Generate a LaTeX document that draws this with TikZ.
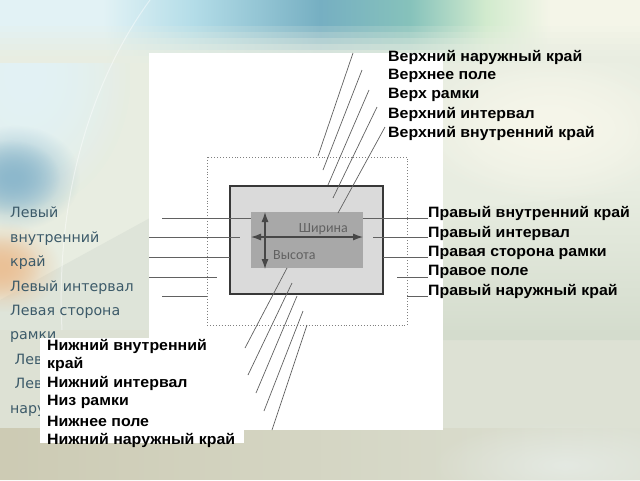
\documentclass[tikz,border=0pt]{standalone}
\usepackage{fontspec}
\setmainfont{Liberation Sans}
\newfontfamily\lblfont[FakeStretch=1.06]{Liberation Sans}
\newfontfamily\leftfont{DejaVu Sans}
\newfontfamily\smallfont{Carlito}
\usetikzlibrary{arrows.meta,fadings}
\definecolor{bgbase}{HTML}{E8EDE1}
\definecolor{cA}{HTML}{E2F2F5}
\definecolor{cB}{HTML}{B4DDE8}
\definecolor{cC}{HTML}{76AFC2}
\definecolor{cD}{HTML}{86C2BB}
\definecolor{cE}{HTML}{D2EBCE}
\definecolor{cF}{HTML}{F4F5E8}
\definecolor{bluepatch}{HTML}{8DB8CC}
\definecolor{leftlow}{HTML}{DEE4D9}
\definecolor{orangepatch}{HTML}{EBC197}
\definecolor{creampatch}{HTML}{F6F6EA}
\definecolor{rightlow}{HTML}{D4DCCD}
\definecolor{lowband}{HTML}{DDE1D4}
\definecolor{beige}{HTML}{CDCBB4}
\definecolor{lightcorner}{HTML}{E4E9E2}
\definecolor{lefttext}{HTML}{3C5A69}
\definecolor{framegray}{HTML}{DADADA}
\definecolor{innergray}{HTML}{A8A8A8}
\newcommand\mkband[2]{\pgfdeclarehorizontalshading{band#1}{100bp}{color(0bp)=(cA!#2!bgbase); color(25bp)=(cA!#2!bgbase); color(33bp)=(cA!#2!bgbase); color(40bp)=(cB!#2!bgbase); color(50bp)=(cC!#2!bgbase); color(57bp)=(cD!#2!bgbase); color(63bp)=(cE!#2!bgbase); color(68bp)=(cF!#2!bgbase); color(75bp)=(cF!#2!bgbase); color(100bp)=(cF!#2!bgbase)}}
\mkband{a}{100}
\mkband{b}{82}
\mkband{c}{64}
\mkband{d}{46}
\mkband{e}{30}
\mkband{f}{16}
\mkband{g}{6}
\tikzfading[name=softspot, inner color=transparent!0, outer color=transparent!100]
\tikzset{
  lbl/.style={font=\lblfont\bfseries\fontsize{15}{18}\selectfont, anchor=west, inner sep=0pt, text=black},
  leader/.style={draw=black!62, line width=0.7pt},
  leftlbl/.style={font=\leftfont\fontsize{14.2}{24.4}\selectfont, text=lefttext, inner sep=0pt, align=left, anchor=north west},
  dimtext/.style={font=\smallfont\fontsize{14}{16}\selectfont, text=black!62, inner sep=0pt},
  dimarrow/.style={draw=black!72, line width=1.1pt, {Latex[length=10pt,width=7pt]}-{Latex[length=10pt,width=7pt]}},
  spot/.style={fill=#1, path fading=softspot}
}
\begin{document}
\begin{tikzpicture}[x=1pt,y=-1pt]
\useasboundingbox (0,0) rectangle (640,480);
% ---------- background ----------
\fill[bgbase] (0,0) rectangle (640,480);
\fill[spot=cA] (-80,-60) rectangle (130,210);
\fill[spot=cA] (-80,-60) rectangle (130,210);
\fill[leftlow] (0,300) -- (150,218) -- (150,480) -- (0,480) -- cycle;
\fill[lowband] (0,330) rectangle (640,480);
\fill[rightlow, path fading=north] (443,212) -- (640,190) -- (640,340) -- (443,340) -- cycle;
\fill[spot=creampatch] (400,40) rectangle (700,205);
\fill[spot=creampatch] (420,60) rectangle (680,200);
\shade[shading=banda] (0,0) rectangle (640,26.5);
\shade[shading=bandb] (0,26) rectangle (640,32.5);
\shade[shading=bandc] (0,32) rectangle (640,38.5);
\shade[shading=bandd] (0,38) rectangle (640,44.5);
\shade[shading=bande] (0,44) rectangle (640,50.5);
\shade[shading=bandf] (0,50) rectangle (640,56.5);
\shade[shading=bandg] (0,56) rectangle (640,62);
\fill[spot=bluepatch] (-50,125) rectangle (80,230);
\fill[spot=bluepatch] (-40,140) rectangle (60,215);
\fill[spot=orangepatch] (-55,222) rectangle (60,312);
\fill[spot=orangepatch] (-45,235) rectangle (40,300);
\fill[beige, path fading=east] (0,428) rectangle (640,480);
\fill[spot=lightcorner] (430,420) rectangle (700,510);
\draw[white, opacity=0.45, line width=1pt] (150,0) .. controls (95,75) and (55,190) .. (62,330);
% ---------- left text (partly hidden) ----------
\node[leftlbl] (leftlabels) at (10,207) {Левый\\внутренний\\край\\Левый интервал\\Левая сторона\\рамки\\\ Левое поле\\\ Левый\\наружный край};
% ---------- white panels ----------
\fill[white] (149,53) rectangle (443,430);
\fill[white] (40,338) rectangle (244,443);
% ---------- diagram ----------
\draw[black!50, line width=0.9pt, dotted] (207,157) rectangle (407,325);
\node[draw=black!78, fill=framegray, line width=1.6pt, minimum width=153pt, minimum height=108pt, inner sep=0pt] (frame) at (306.5,240) {};
\node[fill=innergray, minimum width=112pt, minimum height=56pt, inner sep=0pt] (inner) at (307,240) {};
\coordinate (ht) at (265,212);
\coordinate (hb) at (265,269);
\coordinate (wl) at (251,237);
\coordinate (wr) at (363,237);
\draw[dimarrow] (ht) -- (hb);
\draw[dimarrow] (wl) -- (wr);
\node[dimtext, anchor=east] (shirina) at (348,229) {Ширина};
\node[dimtext, anchor=west] (vysota) at (273,255) {Высота};
% ---------- top labels ----------
\node[lbl] (t1) at (388,57) {Верхний наружный край};
\node[lbl] (t2) at (388,76) {Верхнее поле};
\node[lbl] (t3) at (388,95) {Верх рамки};
\node[lbl] (t4) at (388,114) {Верхний интервал};
\node[lbl] (t5) at (388,133) {Верхний внутренний край};
\coordinate (t1a) at (353,53);  \coordinate (t1b) at (318,156);
\coordinate (t2a) at (362,70);  \coordinate (t2b) at (323,170);
\coordinate (t3a) at (369,90);  \coordinate (t3b) at (328,185);
\coordinate (t4a) at (377,107); \coordinate (t4b) at (333,198);
\coordinate (t5a) at (385,127); \coordinate (t5b) at (338,213);
\foreach \i in {1,...,5} {\draw[leader] (t\i a) -- (t\i b);}
% ---------- right labels ----------
\node[lbl] (r1) at (428,213) {Правый внутренний край};
\node[lbl] (r2) at (428,233) {Правый интервал};
\node[lbl] (r3) at (428,253) {Правая сторона рамки};
\node[lbl] (r4) at (428,272) {Правое поле};
\node[lbl] (r5) at (428,291) {Правый наружный край};
\coordinate (r1a) at (363,218); \coordinate (r1b) at (428,218);
\coordinate (r2a) at (373,237); \coordinate (r2b) at (428,237);
\coordinate (r3a) at (383,257); \coordinate (r3b) at (428,257);
\coordinate (r4a) at (397,277); \coordinate (r4b) at (428,277);
\coordinate (r5a) at (407,296); \coordinate (r5b) at (428,296);
\foreach \i in {1,...,5} {\draw[leader] (r\i a) -- (r\i b);}
% ---------- left leader lines ----------
\coordinate (l1a) at (162,218); \coordinate (l1b) at (251,218);
\coordinate (l2a) at (149,237); \coordinate (l2b) at (240,237);
\coordinate (l3a) at (149,257); \coordinate (l3b) at (230,257);
\coordinate (l4a) at (149,277); \coordinate (l4b) at (217,277);
\coordinate (l5a) at (162,296); \coordinate (l5b) at (207,296);
\foreach \i in {1,...,5} {\draw[leader] (l\i a) -- (l\i b);}
% ---------- bottom leader lines ----------
\coordinate (b1a) at (287,268); \coordinate (b1b) at (245,348);
\coordinate (b2a) at (292,283); \coordinate (b2b) at (248,375);
\coordinate (b3a) at (297,296); \coordinate (b3b) at (256,393);
\coordinate (b4a) at (303,311); \coordinate (b4b) at (264,411);
\coordinate (b5a) at (307,325); \coordinate (b5b) at (272,430);
\foreach \i in {1,...,5} {\draw[leader] (b\i a) -- (b\i b);}
% ---------- bottom labels ----------
\node[lbl] (n1) at (47,346) {Нижний внутренний};
\node[lbl] (n2) at (47,364) {край};
\node[lbl] (n3) at (47,383) {Нижний интервал};
\node[lbl] (n4) at (47,402) {Низ рамки};
\node[lbl] (n5) at (47,421) {Нижнее поле};
\node[lbl] (n6) at (47,440) {Нижний наружный край};
\end{tikzpicture}
\end{document}
